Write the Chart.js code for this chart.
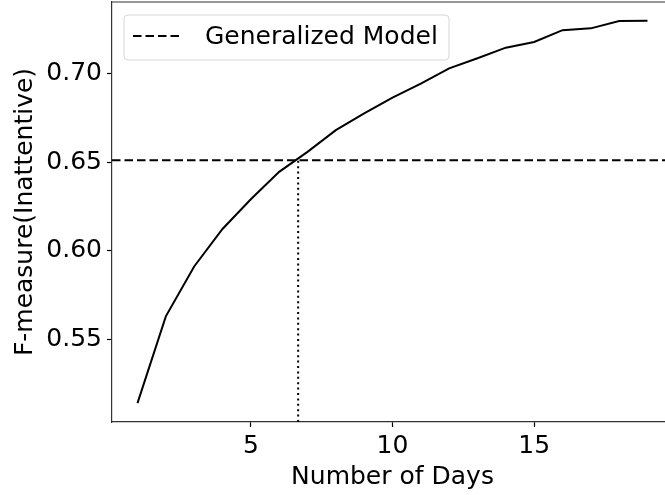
<!DOCTYPE html>
<html>
<head>
<meta charset="utf-8">
<script src="https://cdn.jsdelivr.net/npm/chart.js@4.4.0/dist/chart.umd.min.js"></script>
<style>
  html, body { margin: 0; padding: 0; background: #fff; overflow: hidden; width: 665px; height: 495px; }
  canvas { display: block; }
</style>
</head>
<body>
<canvas id="chart" width="680" height="495"></canvas>
<script>
// Data
const days = [1, 2, 3, 4, 5, 6, 7, 8, 9, 10, 11, 12, 13, 14, 15, 16, 17, 18, 19];
const fMeasure = [0.5138, 0.5628, 0.5910, 0.6122, 0.6290, 0.6445, 0.6558, 0.6681, 0.6775, 0.6865,
                  0.6944, 0.7030, 0.7087, 0.7147, 0.7179, 0.7246, 0.7256, 0.7297, 0.7299];
const generalizedScore = 0.6511;   // dashed reference line
const crossDay = 6.67;             // where the curve meets it
const xTicks = [5, 10, 15];
const yTicks = [0.55, 0.60, 0.65, 0.70];
const xRange = [0.1, 19.9];
const yRange = [0.5031, 0.7405];

const FONT = "'DejaVu Sans', sans-serif";
const DASH = [8.5, 4];
Chart.defaults.font.family = FONT;
Chart.defaults.font.size = 25;
Chart.defaults.color = '#000';

// top spine + legend box drawn by hand, matplotlib style
const framePlugin = {
  id: 'frame',
  afterDraw(chart) {
    const { ctx, chartArea: a } = chart;
    ctx.save();
    ctx.strokeStyle = '#333';
    ctx.lineWidth = 1.2;
    ctx.beginPath();
    ctx.moveTo(a.left, a.top);
    ctx.lineTo(a.right, a.top);
    ctx.stroke();

    // legend
    const bx = 124, by = 15, bw = 325, bh = 45, r = 4;
    ctx.beginPath();
    ctx.moveTo(bx + r, by);
    ctx.arcTo(bx + bw, by, bx + bw, by + bh, r);
    ctx.arcTo(bx + bw, by + bh, bx, by + bh, r);
    ctx.arcTo(bx, by + bh, bx, by, r);
    ctx.arcTo(bx, by, bx + bw, by, r);
    ctx.closePath();
    ctx.fillStyle = 'rgba(255,255,255,0.8)';
    ctx.fill();
    ctx.strokeStyle = '#d6d6d6';
    ctx.lineWidth = 1;
    ctx.stroke();

    // legend sample: four dashes
    ctx.strokeStyle = '#000';
    ctx.lineWidth = 2;
    ctx.beginPath();
    for (let i = 0; i < 4; i++) {
      const x0 = 133 + i * (DASH[0] + DASH[1]);
      ctx.moveTo(x0, 36);
      ctx.lineTo(x0 + DASH[0], 36);
    }
    ctx.stroke();

    ctx.fillStyle = '#000';
    ctx.font = '25px ' + FONT;
    ctx.textBaseline = 'alphabetic';
    ctx.textAlign = 'left';
    ctx.fillText('Generalized Model', 205, 44);
    ctx.restore();
  }
};

new Chart(document.getElementById('chart'), {
  type: 'line',
  data: {
    datasets: [
      {
        label: 'F-measure',
        data: days.map((d, i) => ({ x: d, y: fMeasure[i] })),
        borderColor: '#000',
        borderWidth: 2,
        pointRadius: 0,
        tension: 0
      },
      {
        label: 'Generalized Model',
        data: xRange.map(x => ({ x, y: generalizedScore })),
        borderColor: '#000',
        borderWidth: 2,
        borderDash: DASH,
        pointRadius: 0
      },
      {
        label: 'crossing',
        data: [{ x: crossDay, y: yRange[0] }, { x: crossDay, y: generalizedScore }],
        borderColor: '#000',
        borderWidth: 2,
        borderDash: [2, 3.4],
        pointRadius: 0
      }
    ]
  },
  options: {
    responsive: false,
    animation: false,
    layout: { padding: { top: 2, right: 7, left: 0, bottom: 0 } },
    plugins: { legend: { display: false }, tooltip: { enabled: false } },
    scales: {
      x: {
        type: 'linear',
        min: xRange[0],
        max: xRange[1],
        afterBuildTicks: s => { s.ticks = xTicks.map(v => ({ value: v })); },
        afterFit: s => { s.height = 73; s.paddingLeft = 0; s.paddingRight = 0; },
        ticks: { padding: 4, maxRotation: 0, autoSkip: false, color: '#000' },
        grid: { drawOnChartArea: false, tickLength: 5, tickColor: '#000', tickWidth: 1.2 },
        border: { color: '#333', width: 1.2 },
        title: { display: true, text: 'Number of Days', color: '#000', padding: { top: 0, bottom: 3 } }
      },
      y: {
        min: yRange[0],
        max: yRange[1],
        afterBuildTicks: s => { s.ticks = yTicks.map(v => ({ value: v })); },
        afterFit: s => { s.width = 112; s.paddingTop = 0; s.paddingBottom = 0; },
        ticks: { padding: 5, color: '#000', callback: v => v.toFixed(2) },
        grid: { drawOnChartArea: false, tickLength: 5, tickColor: '#000', tickWidth: 1.2 },
        border: { color: '#333', width: 1.2 },
        title: { display: true, text: 'F-measure(Inattentive)', color: '#000', padding: { top: 10, bottom: 0 } }
      }
    }
  },
  plugins: [framePlugin]
});
</script>
</body>
</html>
